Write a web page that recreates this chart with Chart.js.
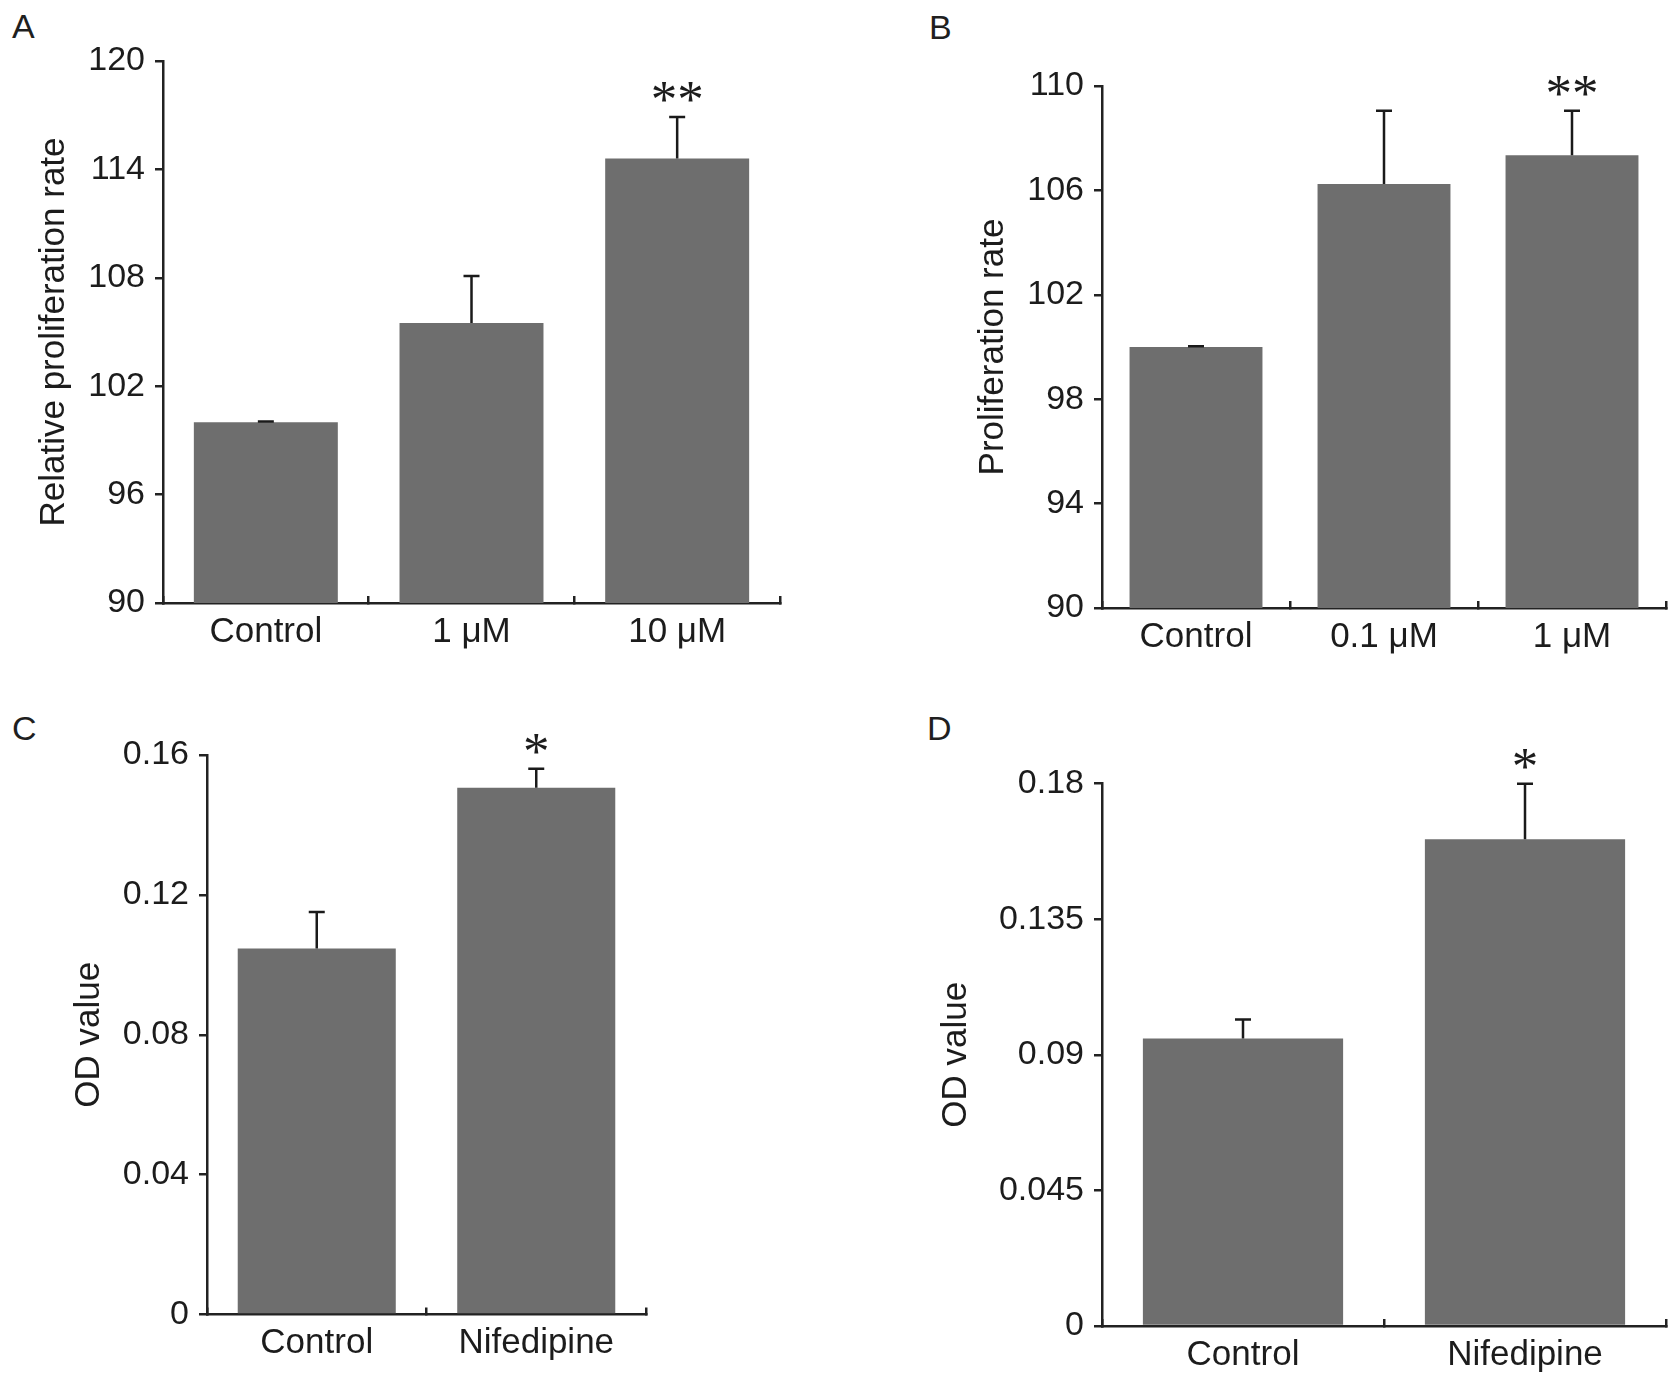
<!DOCTYPE html>
<html><head><meta charset="utf-8">
<script src="https://cdn.jsdelivr.net/npm/chart.js@4.4.1/dist/chart.umd.min.js"></script>
<style>
html,body{margin:0;padding:0;background:#fff;width:1680px;height:1387px;overflow:hidden}
canvas{position:absolute;left:0;top:0}
.lbl{position:absolute;font:34px "Liberation Sans",Arial,sans-serif;color:#1f1f1f;line-height:1}
</style></head><body>
<div class="lbl" style="left:12px;top:9px">A</div>
<div class="lbl" style="left:929px;top:10px">B</div>
<div class="lbl" style="left:12px;top:711px">C</div>
<div class="lbl" style="left:927px;top:711px">D</div>
<canvas id="cA" width="1680" height="1387"></canvas>
<canvas id="cB" width="1680" height="1387"></canvas>
<canvas id="cC" width="1680" height="1387"></canvas>
<canvas id="cD" width="1680" height="1387"></canvas>
<script>
// ---- data ----
const catA = ['Control', '1 μM', '10 μM'];
const valA = [100, 105.5, 114.6];
const errA = [0.05, 2.6, 2.3];
const sigA = ['', '', '**'];
const tickA = [90, 96, 102, 108, 114, 120];
const tickLabelA = ['90', '96', '102', '108', '114', '120'];

const catB = ['Control', '0.1 μM', '1 μM'];
const valB = [100, 106.25, 107.35];
const errB = [0.03, 2.8, 1.7];
const sigB = ['', '', '**'];
const tickB = [90, 94, 98, 102, 106, 110];
const tickLabelB = ['90', '94', '98', '102', '106', '110'];

const catC = ['Control', 'Nifedipine'];
const valC = [0.1047, 0.1506];
const errC = [0.0104, 0.0055];
const sigC = ['', '*'];
const tickC = [0, 0.04, 0.08, 0.12, 0.16];
const tickLabelC = ['0', '0.04', '0.08', '0.12', '0.16'];

const catD = ['Control', 'Nifedipine'];
const valD = [0.0954, 0.1615];
const errD = [0.0063, 0.0184];
const sigD = ['', '*'];
const tickD = [0, 0.045, 0.09, 0.135, 0.18];
const tickLabelD = ['0', '0.045', '0.09', '0.135', '0.18'];

// ---- layout (pixel boxes of plot areas) ----
const layoutA = {left:163, top:61, right:780, bottom:603, titleX:54, barPct:0.70};
const layoutB = {left:1102, top:86, right:1666, bottom:608, titleX:993.5, barPct:0.707};
const layoutC = {left:207, top:755, right:646, bottom:1314.5, titleX:89, barPct:0.72};
const layoutD = {left:1102, top:783.5, right:1666, bottom:1326, titleX:956, barPct:0.71};

const PAGE_W = 1680, PAGE_H = 1387;
const FAM = '"Liberation Sans", Arial, sans-serif';
const INK = '#1c1c1c';
const AX = '#222222';
const TICK_SIZE = 34, LABEL_SIZE = 35, TITLE_SIZE = 35;

const errPlugin = {
  id: 'errbars',
  afterDatasetsDraw(chart) {
    const ctx = chart.ctx;
    const ys = chart.scales.y;
    const ds = chart.data.datasets[0];
    const meta = chart.getDatasetMeta(0);
    ctx.save();
    ctx.strokeStyle = '#1a1a1a';
    ctx.lineWidth = 2.5;
    meta.data.forEach((bar, i) => {
      const x = bar.x;
      const y0 = ys.getPixelForValue(ds.data[i]);
      const y1 = ys.getPixelForValue(ds.data[i] + ds.errors[i]);
      ctx.beginPath();
      ctx.moveTo(x, y0); ctx.lineTo(x, y1);
      ctx.moveTo(x - 8, y1); ctx.lineTo(x + 8, y1);
      ctx.stroke();
      const s = ds.sig[i];
      if (s) {
        ctx.font = '53px "Liberation Serif", "Times New Roman", serif';
        ctx.fillStyle = INK;
        ctx.textAlign = 'center';
        ctx.textBaseline = 'alphabetic';
        const m = ctx.measureText(s);
        const cy = y1 - 25;
        const base = cy + (m.actualBoundingBoxAscent - m.actualBoundingBoxDescent) / 2;
        ctx.fillText(s, x, base);
      }
    });
    ctx.restore();
  }
};

function makeChart(id, cats, vals, errs, sigs, ticks, tickLabels, yTitle, L) {
  const lh = TITLE_SIZE * 1.2;
  const padL = L.titleX - 54;
  const xH = 50;
  new Chart(document.getElementById(id), {
    type: 'bar',
    data: {
      labels: cats,
      datasets: [{
        data: vals, errors: errs, sig: sigs,
        backgroundColor: '#6e6e6e', borderWidth: 0,
        barPercentage: L.barPct, categoryPercentage: 1
      }]
    },
    options: {
      responsive: false, animation: false, devicePixelRatio: 1,
      layout: {padding: {left: padL, top: L.top, right: PAGE_W - L.right, bottom: PAGE_H - L.bottom - xH}},
      plugins: {legend: {display: false}, tooltip: {enabled: false}, title: {display: false}},
      scales: {
        x: {
          grid: {drawOnChartArea: false, tickLength: -7, color: AX, lineWidth: 2.5, offset: true},
          border: {color: AX, width: 2.5},
          ticks: {font: {family: FAM, size: LABEL_SIZE}, color: INK, padding: 15, maxRotation: 0, autoSkip: false},
          afterFit(s) { s.height = xH; }
        },
        y: {
          min: ticks[0], max: ticks[ticks.length - 1],
          grid: {drawOnChartArea: false, tickLength: 8, color: AX, lineWidth: 2.5},
          border: {color: AX, width: 2.5},
          afterBuildTicks(s) { s.ticks = ticks.map(v => ({value: v})); },
          ticks: {font: {family: FAM, size: TICK_SIZE}, color: INK, padding: 10,
                  callback: (v, i) => tickLabels[i]},
          title: {display: true, text: yTitle, font: {family: FAM, size: TITLE_SIZE}, color: INK,
                  padding: {top: 54 - lh / 2, bottom: 0}},
          afterFit(s) { s.width = L.left - padL; }
        }
      }
    },
    plugins: [errPlugin]
  });
}

makeChart('cA', catA, valA, errA, sigA, tickA, tickLabelA, 'Relative proliferation rate', layoutA);
makeChart('cB', catB, valB, errB, sigB, tickB, tickLabelB, 'Proliferation rate', layoutB);
makeChart('cC', catC, valC, errC, sigC, tickC, tickLabelC, 'OD value', layoutC);
makeChart('cD', catD, valD, errD, sigD, tickD, tickLabelD, 'OD value', layoutD);
</script>
</body></html>
